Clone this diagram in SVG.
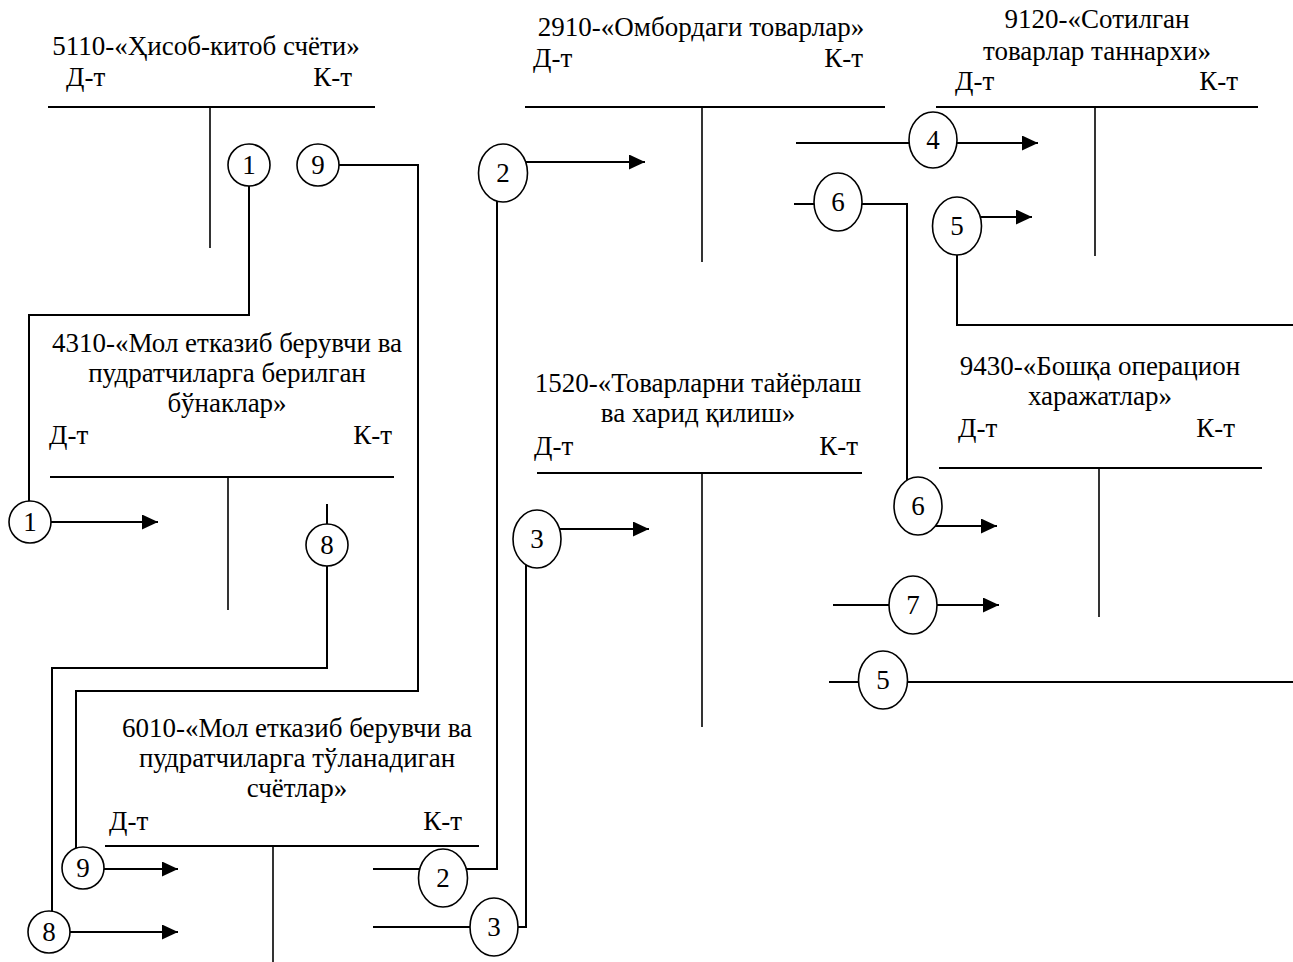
<svg xmlns="http://www.w3.org/2000/svg" width="1293" height="962" viewBox="0 0 1293 962">
<style>
text{font-family:"Liberation Serif","Times New Roman",serif;font-size:27px;fill:#000}
.c{text-anchor:middle}
.e{text-anchor:end}
.th{stroke:#000;stroke-width:2;fill:none}
.tv{stroke:#000;stroke-width:1.6;fill:none}
.ln{stroke:#000;stroke-width:2;fill:none}
.ci{stroke:#000;stroke-width:1.6;fill:#fff}
</style>
<defs>
<marker id="ah" markerUnits="userSpaceOnUse" markerWidth="17" markerHeight="16" refX="16" refY="7.5" orient="auto">
<path d="M0,0 L16,7.5 L0,15 z" fill="#000"/>
</marker>
</defs>
<rect width="1293" height="962" fill="#fff"/>

<g id="acc5110">
<text class="c" x="206" y="55">5110-«Ҳисоб-китоб счёти»</text>
<text x="66" y="86">Д-т</text>
<text class="e" x="352" y="86">К-т</text>
<line class="th" x1="48" y1="107" x2="375" y2="107"/>
<line class="tv" x1="210" y1="107" x2="210" y2="248"/>
</g>

<g id="acc2910">
<text class="c" x="701" y="36">2910-«Омбордаги товарлар»</text>
<text x="533" y="67">Д-т</text>
<text class="e" x="863" y="67">К-т</text>
<line class="th" x1="525" y1="107" x2="885" y2="107"/>
<line class="tv" x1="702" y1="107" x2="702" y2="262"/>
</g>

<g id="acc9120">
<text class="c" x="1097" y="28">9120-«Сотилган</text>
<text class="c" x="1097" y="60">товарлар таннархи»</text>
<text x="955" y="90">Д-т</text>
<text class="e" x="1238" y="90">К-т</text>
<line class="th" x1="936" y1="107" x2="1258" y2="107"/>
<line class="tv" x1="1095" y1="107" x2="1095" y2="256"/>
</g>

<g id="acc4310">
<text class="c" x="227" y="352">4310-«Мол етказиб берувчи ва</text>
<text class="c" x="227" y="382">пудратчиларга берилган</text>
<text class="c" x="227" y="412">бўнаклар»</text>
<text x="49" y="444">Д-т</text>
<text class="e" x="392" y="444">К-т</text>
<line class="th" x1="50" y1="477" x2="394" y2="477"/>
<line class="tv" x1="228" y1="477" x2="228" y2="610"/>
</g>

<g id="acc1520">
<text class="c" x="698" y="392">1520-«Товарларни тайёрлаш</text>
<text class="c" x="698" y="422">ва харид қилиш»</text>
<text x="534" y="455">Д-т</text>
<text class="e" x="858" y="455">К-т</text>
<line class="th" x1="537" y1="473" x2="862" y2="473"/>
<line class="tv" x1="702" y1="473" x2="702" y2="727"/>
</g>

<g id="acc9430">
<text class="c" x="1100" y="375">9430-«Бошқа операцион</text>
<text class="c" x="1100" y="405">харажатлар»</text>
<text x="958" y="437">Д-т</text>
<text class="e" x="1235" y="437">К-т</text>
<line class="th" x1="939" y1="468" x2="1262" y2="468"/>
<line class="tv" x1="1099" y1="468" x2="1099" y2="617"/>
</g>

<g id="acc6010">
<text class="c" x="297" y="737">6010-«Мол етказиб берувчи ва</text>
<text class="c" x="297" y="767">пудратчиларга тўланадиган</text>
<text class="c" x="297" y="797">счётлар»</text>
<text x="109" y="830">Д-т</text>
<text class="e" x="462" y="830">К-т</text>
<line class="th" x1="105" y1="846" x2="479" y2="846"/>
<line class="tv" x1="273" y1="846" x2="273" y2="962"/>
</g>

<g id="connectors">
<path class="ln" d="M249,186 V315 H29 V501"/>
<path class="ln" d="M51,522 H158" marker-end="url(#ah)"/>
<path class="ln" d="M339,165 H418 V691 H76 V848"/>
<path class="ln" d="M104,869 H178" marker-end="url(#ah)"/>
<path class="ln" d="M327,504 V524"/>
<path class="ln" d="M327,566 V668 H52 V911"/>
<path class="ln" d="M70,932 H178" marker-end="url(#ah)"/>
<path class="ln" d="M373,869 H420"/>
<path class="ln" d="M466,869 H497 V201"/>
<path class="ln" d="M526,162 H645" marker-end="url(#ah)"/>
<path class="ln" d="M373,927 H470"/>
<path class="ln" d="M518,927 H526 V565"/>
<path class="ln" d="M560,529 H649" marker-end="url(#ah)"/>
<path class="ln" d="M796,143 H909"/>
<path class="ln" d="M957,143 H1038" marker-end="url(#ah)"/>
<path class="ln" d="M794,204 H814"/>
<path class="ln" d="M862,204 H907 V480"/>
<path class="ln" d="M935,526 H997" marker-end="url(#ah)"/>
<path class="ln" d="M981,217 H1032" marker-end="url(#ah)"/>
<path class="ln" d="M957,255 V325 H1293"/>
<path class="ln" d="M833,605 H889"/>
<path class="ln" d="M937,605 H999" marker-end="url(#ah)"/>
<path class="ln" d="M829,682 H859"/>
<path class="ln" d="M907,682 H1293"/>
</g>

<g id="op1a"><circle class="ci" cx="249" cy="165" r="21"/><text class="c" x="249" y="174">1</text></g>
<g id="op9a"><circle class="ci" cx="318" cy="165" r="21"/><text class="c" x="318" y="174">9</text></g>
<g id="op1b"><circle class="ci" cx="30" cy="522" r="21"/><text class="c" x="30" y="531">1</text></g>
<g id="op8a"><circle class="ci" cx="327" cy="545" r="21"/><text class="c" x="327" y="554">8</text></g>
<g id="op9b"><circle class="ci" cx="83" cy="868" r="21"/><text class="c" x="83" y="877">9</text></g>
<g id="op8b"><circle class="ci" cx="49" cy="932" r="21"/><text class="c" x="49" y="941">8</text></g>
<g id="op2a"><ellipse class="ci" cx="503" cy="173" rx="24.5" ry="29"/><text class="c" x="503" y="182">2</text></g>
<g id="op2b"><ellipse class="ci" cx="443" cy="878" rx="24.5" ry="29"/><text class="c" x="443" y="887">2</text></g>
<g id="op3a"><ellipse class="ci" cx="537" cy="539" rx="24" ry="29"/><text class="c" x="537" y="548">3</text></g>
<g id="op3b"><ellipse class="ci" cx="494" cy="927" rx="24" ry="29"/><text class="c" x="494" y="936">3</text></g>
<g id="op4"><ellipse class="ci" cx="933" cy="140" rx="24" ry="28"/><text class="c" x="933" y="149">4</text></g>
<g id="op6a"><ellipse class="ci" cx="838" cy="202" rx="24" ry="29"/><text class="c" x="838" y="211">6</text></g>
<g id="op6b"><ellipse class="ci" cx="918" cy="506" rx="24" ry="29"/><text class="c" x="918" y="515">6</text></g>
<g id="op5a"><ellipse class="ci" cx="957" cy="226" rx="24.5" ry="29"/><text class="c" x="957" y="235">5</text></g>
<g id="op7"><ellipse class="ci" cx="913" cy="605" rx="24" ry="29"/><text class="c" x="913" y="614">7</text></g>
<g id="op5b"><ellipse class="ci" cx="883" cy="680" rx="24.5" ry="29"/><text class="c" x="883" y="689">5</text></g>
</svg>
